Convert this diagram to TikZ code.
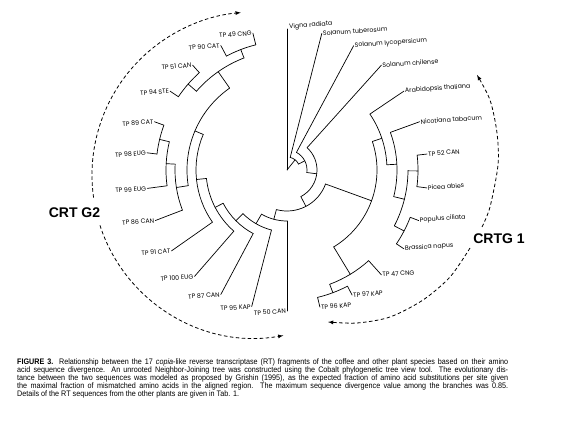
\documentclass[tikz,border=0pt]{standalone}
\usepackage{fontspec}
\setmainfont{Liberation Sans}
\newfontfamily\leaffont{Poppins}
\newfontfamily\capfont[FakeStretch=0.9]{Liberation Sans}
\usetikzlibrary{calc}

\tikzset{
	branch/.style = {line width = .7pt, line cap = round},
	leaf/.style = {font = \leaffont\fontsize{6.3}{7}\selectfont, inner sep = 1pt, rotate = 4},
	clade/.style = {font = \bfseries\fontsize{14}{16}\selectfont},
	cladearrow/.style = {dash pattern = on 3.5pt off 2.5pt, line width = .8pt, -latex},
}

% arc of a bracket: radius, start angle, end angle
\newcommand{\bracketarc}[3]{\draw[branch] (#2:#1pt) arc[start angle = #2, end angle = #3, radius = #1pt];}
% radial stem: name, angle, inner radius, outer radius
\newcommand{\stem}[4]{\coordinate (#1-foot) at (#2:#3pt); \coordinate (#1) at (#2:#4pt); \draw[branch] (#1-foot) -- (#1);}

\begin{document}
\begin{tikzpicture}[x = 1pt, y = 1pt]
		\useasboundingbox (-287,-255) rectangle (293,170);
		
		\coordinate (root) at (0,0);
		
		% root and Solanum
		\stem{vigna}{90}{0}{141}
		\stem{s1}{51.5}{0}{13}
		\bracketarc{13}{27.3}{75.7}
		\stem{tuberosum}{75.7}{13}{141}
		\stem{s2}{27.3}{13}{20}
		\bracketarc{20}{-7.25}{61.8}
		\stem{lycopersicum}{61.8}{20}{141}
		\stem{s3}{-7.25}{20}{30}
		\bracketarc{30}{-62.5}{48}
		\stem{chilense}{48}{30}{141}
		\stem{b}{-62.5}{30}{41}
		\bracketarc{41}{-105}{-20}
		
		% CRTG 1
		\stem{g1}{-20}{41}{90}
		\bracketarc{90}{-58.75}{18.5}
		\stem{plants}{18.5}{90}{100}
		\bracketarc{100}{3}{34}
		\stem{arabidopsis}{34}{100}{141}
		\stem{nx}{3}{100}{110}
		\bracketarc{110}{-14}{20}
		\stem{nicotiana}{20}{110}{141}
		\stem{ny}{-14}{110}{121}
		\bracketarc{121}{-27.5}{-0.4}
		\stem{n52}{-0.4}{121}{131}
		\bracketarc{131}{-7.3}{6.5}
		\stem{tp52}{6.5}{131}{141}
		\stem{picea}{-7.3}{131}{141}
		\stem{npb}{-27.5}{121}{132}
		\bracketarc{132}{-34}{-21}
		\stem{populus}{-21}{132}{141}
		\stem{brassica}{-34}{132}{141}
		\stem{n47}{-58.75}{90}{122}
		\bracketarc{122}{-69.5}{-48}
		\stem{tp47}{-48}{122}{141}
		\stem{n97}{-69.5}{122}{131}
		\bracketarc{131}{-76.5}{-62.5}
		\stem{tp97}{-62.5}{131}{141}
		\stem{tp96}{-76.5}{131}{141}
		
		% CRT G2
		\stem{ne}{-105}{41}{51}
		\bracketarc{51}{240}{270}
		\stem{tp50}{270}{51}{141}
		\stem{nd}{240}{51}{62}
		\bracketarc{62}{224.75}{255.5}
		\stem{tp95}{255.5}{62}{141}
		\stem{nc}{224.75}{62}{72}
		\bracketarc{72}{207.5}{242}
		\stem{tp87}{242}{72}{141}
		\stem{nb}{207.5}{72}{81}
		\bracketarc{81}{186}{229}
		\stem{tp100}{229}{81}{141}
		\stem{na}{186}{81}{91}
		\bracketarc{91}{157}{215}
		\stem{tp91}{215}{91}{141}
		\stem{nup}{157}{91}{100}
		\bracketarc{100}{125}{189}
		\stem{ntop}{125}{100}{120}
		\bracketarc{120}{111}{139}
		\stem{n4990}{111}{120}{129}
		\bracketarc{129}{104}{118}
		\stem{tp49}{104}{129}{141}
		\stem{tp90}{118}{129}{141}
		\stem{n5194}{139}{120}{131}
		\bracketarc{131}{132}{146}
		\stem{tp51}{132}{131}{141}
		\stem{tp94}{146}{131}{141}
		\stem{nmid}{189}{100}{112}
		\bracketarc{112}{177}{201}
		\stem{tp86}{201}{112}{141}
		\stem{n8999}{177}{112}{121}
		\bracketarc{121}{166.5}{187.5}
		\stem{tp99}{187.5}{121}{141}
		\stem{n8998}{166.5}{121}{131}
		\bracketarc{131}{160}{173}
		\stem{tp89}{160}{131}{141}
		\stem{tp98}{173}{131}{141}
		
		% labels, right side
		\node[leaf, anchor = west] (vigna-label) at ($(vigna) + (1,2)$) {Vigna radiata};
		\node[leaf, anchor = west] (tuberosum-label) at (tuberosum) {Solanum tuberosum};
		\node[leaf, anchor = west] (lycopersicum-label) at (lycopersicum) {Solanum lycopersicum};
		\node[leaf, anchor = west] (chilense-label) at (chilense) {Solanum chilense};
		\node[leaf, anchor = west] (arabidopsis-label) at (arabidopsis) {Arabidopsis thaliana};
		\node[leaf, anchor = west] (nicotiana-label) at (nicotiana) {Nicotiana tabacum};
		\node[leaf, anchor = west] (tp52-label) at (tp52) {TP 52 CAN};
		\node[leaf, anchor = west] (picea-label) at (picea) {Picea abies};
		\node[leaf, anchor = west] (populus-label) at (populus) {Populus ciliata};
		\node[leaf, anchor = west] (brassica-label) at (brassica) {Brassica napus};
		\node[leaf, anchor = west] (tp47-label) at (tp47) {TP 47 CNG};
		\node[leaf, anchor = west] (tp97-label) at (tp97) {TP 97 KAP};
		\node[leaf, anchor = west] (tp96-label) at (tp96) {TP 96 KAP};
		
		% labels, left side
		\node[leaf, anchor = east] (tp49-label) at (tp49) {TP 49 CNG};
		\node[leaf, anchor = east] (tp90-label) at (tp90) {TP 90 CAT};
		\node[leaf, anchor = east] (tp51-label) at (tp51) {TP 51 CAN};
		\node[leaf, anchor = east] (tp94-label) at (tp94) {TP 94 STE};
		\node[leaf, anchor = east] (tp89-label) at (tp89) {TP 89 CAT};
		\node[leaf, anchor = east] (tp98-label) at (tp98) {TP 98 EUG};
		\node[leaf, anchor = east] (tp99-label) at (tp99) {TP 99 EUG};
		\node[leaf, anchor = east] (tp86-label) at (tp86) {TP 86 CAN};
		\node[leaf, anchor = east] (tp91-label) at (tp91) {TP 91 CAT};
		\node[leaf, anchor = east] (tp100-label) at (tp100) {TP 100 EUG};
		\node[leaf, anchor = east] (tp87-label) at (tp87) {TP 87 CAN};
		\node[leaf, anchor = east] (tp95-label) at (tp95) {TP 95 KAP};
		\node[leaf, anchor = east] (tp50-label) at (tp50) {TP 50 CAN};
		
		% clade arrows
		\node[clade] (g2-label) at (-212.5,-43) {CRT G2};
		\node[clade] (g1-label) at (212,-69) {CRTG 1};
		\coordinate (g2-centre) at (-32,-5);
		\draw[cladearrow] ($(g2-centre) + (188:163pt)$) arc[start angle = 188, end angle = 95, radius = 163pt];
		\draw[cladearrow] ($(g2-centre) + (198:163pt)$) arc[start angle = 198, end angle = 280, radius = 163pt];
		\draw[cladearrow] plot[smooth] coordinates {(195,-57) (203,-37) (211,5) (210,37) (203,70) (190,95)};
		\draw[cladearrow] plot[smooth] coordinates {(183,-78) (163,-107) (136,-130) (103,-147) (70,-153) (41,-152)};
		
		% caption
		\node[anchor = north west, text width = 491pt, align = justify, inner sep = 0pt, font = \capfont\fontsize{8}{8}\selectfont] (caption) at (-270,-188.5) {\textbf{FIGURE 3.} Relationship between the 17 \textit{copia}-like reverse transcriptase (RT) fragments of the coffee and other plant species based on their amino\linebreak acid sequence divergence. An unrooted Neighbor-Joining tree was constructed using the Cobalt phylogenetic tree view tool. The evolutionary dis-\linebreak tance between the two sequences was modeled as proposed by Grishin (1995), as the expected fraction of amino acid substitutions per site given\linebreak the maximal fraction of mismatched amino acids in the aligned region. The maximum sequence divergence value among the branches was 0.85.\linebreak Details of the RT sequences from the other plants are given in Tab. 1.};
	\end{tikzpicture}
\end{document}
